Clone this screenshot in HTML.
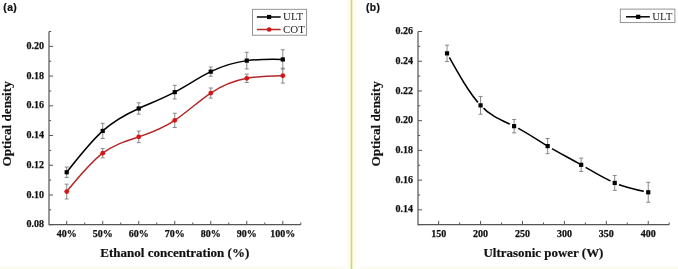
<!DOCTYPE html>
<html><head><meta charset="utf-8"><style>
html,body{margin:0;padding:0;background:#fff;width:678px;height:269px;overflow:hidden}
svg{display:block;will-change:transform;filter:blur(0.25px)}
.tk{font-family:"Liberation Serif",serif;font-weight:bold;font-size:10px;fill:#111;stroke:#111;stroke-width:0.25px}
.tt{font-family:"Liberation Serif",serif;font-weight:bold;font-size:13.5px;fill:#111;stroke:#111;stroke-width:0.2px}
.lg{font-family:"Liberation Serif",serif;font-size:10.9px;fill:#222}
.pn{font-family:"Liberation Sans",sans-serif;font-weight:bold;font-size:10.3px;fill:#111;stroke:#111;stroke-width:0.2px}
</style></head><body>
<svg width="678" height="269" viewBox="0 0 678 269">
<rect x="0" y="0" width="678" height="269" fill="#fff"/>
<rect x="0" y="266" width="678" height="1" fill="#fefefa"/><rect x="0" y="267" width="678" height="1" fill="#fdfcf4"/><rect x="0" y="268" width="678" height="1" fill="#fcfaed"/>
<rect x="345" y="0" width="13" height="269" fill="#fefef7"/><rect x="348" y="0" width="7" height="269" fill="#fcfce9"/><rect x="350" y="0" width="3" height="269" fill="#eff0cb"/><rect x="351" y="0" width="1" height="269" fill="#d0d292"/>
<text class="pn" x="3.3" y="11.2" letter-spacing="0.4">(a)</text>
<text class="pn" x="366" y="11.3" letter-spacing="0.4">(b)</text>
<path d="M49,31.5 V224.7 H300.8" fill="none" stroke="#555" stroke-width="1.2"/>
<path d="M49,224.7 h4" stroke="#555" stroke-width="1"/>
<path d="M49,194.98 h4" stroke="#555" stroke-width="1"/>
<path d="M49,165.25 h4" stroke="#555" stroke-width="1"/>
<path d="M49,135.53 h4" stroke="#555" stroke-width="1"/>
<path d="M49,105.81 h4" stroke="#555" stroke-width="1"/>
<path d="M49,76.08 h4" stroke="#555" stroke-width="1"/>
<path d="M49,46.36 h4" stroke="#555" stroke-width="1"/>
<path d="M49,209.84 h2.2" stroke="#555" stroke-width="1"/>
<path d="M49,180.12 h2.2" stroke="#555" stroke-width="1"/>
<path d="M49,150.39 h2.2" stroke="#555" stroke-width="1"/>
<path d="M49,120.67 h2.2" stroke="#555" stroke-width="1"/>
<path d="M49,90.95 h2.2" stroke="#555" stroke-width="1"/>
<path d="M49,61.22 h2.2" stroke="#555" stroke-width="1"/>
<path d="M49,31.5 h2.2" stroke="#555" stroke-width="1"/>
<path d="M66.71,224.7 v-3.8" stroke="#555" stroke-width="1"/>
<path d="M102.72,224.7 v-3.8" stroke="#555" stroke-width="1"/>
<path d="M138.74,224.7 v-3.8" stroke="#555" stroke-width="1"/>
<path d="M174.75,224.7 v-3.8" stroke="#555" stroke-width="1"/>
<path d="M210.76,224.7 v-3.8" stroke="#555" stroke-width="1"/>
<path d="M246.78,224.7 v-3.8" stroke="#555" stroke-width="1"/>
<path d="M282.79,224.7 v-3.8" stroke="#555" stroke-width="1"/>
<path d="M84.71,224.7 v-2.2" stroke="#555" stroke-width="1"/>
<path d="M120.73,224.7 v-2.2" stroke="#555" stroke-width="1"/>
<path d="M156.74,224.7 v-2.2" stroke="#555" stroke-width="1"/>
<path d="M192.76,224.7 v-2.2" stroke="#555" stroke-width="1"/>
<path d="M228.77,224.7 v-2.2" stroke="#555" stroke-width="1"/>
<path d="M264.79,224.7 v-2.2" stroke="#555" stroke-width="1"/>
<path d="M300.8,224.7 v-2.2" stroke="#555" stroke-width="1"/>
<text class="tk" x="44.1" y="227.3" text-anchor="end">0.08</text>
<text class="tk" x="44.1" y="197.58" text-anchor="end">0.10</text>
<text class="tk" x="44.1" y="167.85" text-anchor="end">0.12</text>
<text class="tk" x="44.1" y="138.13" text-anchor="end">0.14</text>
<text class="tk" x="44.1" y="108.41" text-anchor="end">0.16</text>
<text class="tk" x="44.1" y="78.68" text-anchor="end">0.18</text>
<text class="tk" x="44.1" y="48.96" text-anchor="end">0.20</text>
<text class="tk" x="66.71" y="236.9" text-anchor="middle">40%</text>
<text class="tk" x="102.72" y="236.9" text-anchor="middle">50%</text>
<text class="tk" x="138.74" y="236.9" text-anchor="middle">60%</text>
<text class="tk" x="174.75" y="236.9" text-anchor="middle">70%</text>
<text class="tk" x="210.76" y="236.9" text-anchor="middle">80%</text>
<text class="tk" x="246.78" y="236.9" text-anchor="middle">90%</text>
<text class="tk" x="282.79" y="236.9" text-anchor="middle">100%</text>
<text class="tt" x="174.75" y="256.9" text-anchor="middle" textLength="149" lengthAdjust="spacingAndGlyphs">Ethanol concentration (%)</text>
<text class="tt" transform="translate(11.1,123.9) rotate(-90)" text-anchor="middle" textLength="85.3" lengthAdjust="spacingAndGlyphs">Optical density</text>
<path d="M66.71,172.24 C78.71,156.97 90.72,141.69 102.72,130.92 C114.73,120.15 126.73,113.89 138.74,108.48 C150.74,103.08 162.75,98.53 174.75,92.14 C186.75,85.74 198.76,77.5 210.76,71.63 C222.77,65.76 234.77,62.26 246.78,60.63 C258.78,58.99 270.79,59.22 282.79,59.44" fill="none" stroke="#000" stroke-width="1.5"/>
<path d="M66.71,167.04 V177.44 M64.71,167.04 h4 M64.71,177.44 h4" stroke="#7c7c7c" stroke-width="0.9" fill="none"/>
<path d="M102.72,123.34 V138.5 M100.72,123.34 h4 M100.72,138.5 h4" stroke="#7c7c7c" stroke-width="0.9" fill="none"/>
<path d="M138.74,102.84 V114.13 M136.74,102.84 h4 M136.74,114.13 h4" stroke="#7c7c7c" stroke-width="0.9" fill="none"/>
<path d="M174.75,85.3 V98.97 M172.75,85.3 h4 M172.75,98.97 h4" stroke="#7c7c7c" stroke-width="0.9" fill="none"/>
<path d="M210.76,67.02 V76.23 M208.76,67.02 h4 M208.76,76.23 h4" stroke="#7c7c7c" stroke-width="0.9" fill="none"/>
<path d="M246.78,52.31 V68.95 M244.78,52.31 h4 M244.78,68.95 h4" stroke="#7c7c7c" stroke-width="0.9" fill="none"/>
<path d="M282.79,49.78 V69.1 M280.79,49.78 h4 M280.79,69.1 h4" stroke="#7c7c7c" stroke-width="0.9" fill="none"/>
<rect x="64.61" y="170.14" width="4.2" height="4.2" fill="#000"/>
<rect x="100.62" y="128.82" width="4.2" height="4.2" fill="#000"/>
<rect x="136.64" y="106.38" width="4.2" height="4.2" fill="#000"/>
<rect x="172.65" y="90.04" width="4.2" height="4.2" fill="#000"/>
<rect x="208.66" y="69.53" width="4.2" height="4.2" fill="#000"/>
<rect x="244.68" y="58.53" width="4.2" height="4.2" fill="#000"/>
<rect x="280.69" y="57.34" width="4.2" height="4.2" fill="#000"/>
<path d="M66.71,191.56 C78.71,176.9 90.72,162.23 102.72,153.22 C114.73,144.2 126.73,140.83 138.74,136.87 C150.74,132.91 162.75,128.36 174.75,120.37 C186.75,112.39 198.76,100.97 210.76,93.03 C222.77,85.09 234.77,80.63 246.78,78.31 C258.78,76 270.79,75.82 282.79,75.64" fill="none" stroke="#b42828" stroke-width="1.5"/>
<path d="M66.71,184.13 V198.99 M64.71,184.13 h4 M64.71,198.99 h4" stroke="#7c7c7c" stroke-width="0.9" fill="none"/>
<path d="M102.72,148.61 V157.82 M100.72,148.61 h4 M100.72,157.82 h4" stroke="#7c7c7c" stroke-width="0.9" fill="none"/>
<path d="M138.74,131.07 V142.66 M136.74,131.07 h4 M136.74,142.66 h4" stroke="#7c7c7c" stroke-width="0.9" fill="none"/>
<path d="M174.75,113.24 V127.51 M172.75,113.24 h4 M172.75,127.51 h4" stroke="#7c7c7c" stroke-width="0.9" fill="none"/>
<path d="M210.76,87.97 V98.08 M208.76,87.97 h4 M208.76,98.08 h4" stroke="#7c7c7c" stroke-width="0.9" fill="none"/>
<path d="M246.78,74.15 V82.48 M244.78,74.15 h4 M244.78,82.48 h4" stroke="#7c7c7c" stroke-width="0.9" fill="none"/>
<path d="M282.79,68.21 V83.07 M280.79,68.21 h4 M280.79,83.07 h4" stroke="#7c7c7c" stroke-width="0.9" fill="none"/>
<circle cx="66.71" cy="191.56" r="2.4" fill="#d81414"/>
<circle cx="102.72" cy="153.22" r="2.4" fill="#d81414"/>
<circle cx="138.74" cy="136.87" r="2.4" fill="#d81414"/>
<circle cx="174.75" cy="120.37" r="2.4" fill="#d81414"/>
<circle cx="210.76" cy="93.03" r="2.4" fill="#d81414"/>
<circle cx="246.78" cy="78.31" r="2.4" fill="#d81414"/>
<circle cx="282.79" cy="75.64" r="2.4" fill="#d81414"/>
<rect x="252.5" y="9.3" width="54.1" height="25.9" fill="#fff" stroke="#888" stroke-width="0.9"/>
<path d="M256.9,17 H280.7" stroke="#000" stroke-width="1.5"/>
<rect x="267" y="14.9" width="4.2" height="4.2" fill="#000"/>
<text class="lg" x="283.1" y="20.1">ULT</text>
<path d="M256.9,29.5 H280.7" stroke="#b42828" stroke-width="1.5"/>
<circle cx="269.1" cy="29.5" r="2.3" fill="#d81414"/>
<text class="lg" x="283.1" y="32.6">COT</text>
<path d="M418,31.5 V224.7 H669.2" fill="none" stroke="#555" stroke-width="1.2"/>
<path d="M418,209.84 h4" stroke="#555" stroke-width="1"/>
<path d="M418,180.12 h4" stroke="#555" stroke-width="1"/>
<path d="M418,150.39 h4" stroke="#555" stroke-width="1"/>
<path d="M418,120.67 h4" stroke="#555" stroke-width="1"/>
<path d="M418,90.95 h4" stroke="#555" stroke-width="1"/>
<path d="M418,61.22 h4" stroke="#555" stroke-width="1"/>
<path d="M418,31.5 h4" stroke="#555" stroke-width="1"/>
<path d="M418,224.7 h2.2" stroke="#555" stroke-width="1"/>
<path d="M418,194.98 h2.2" stroke="#555" stroke-width="1"/>
<path d="M418,165.25 h2.2" stroke="#555" stroke-width="1"/>
<path d="M418,135.53 h2.2" stroke="#555" stroke-width="1"/>
<path d="M418,105.81 h2.2" stroke="#555" stroke-width="1"/>
<path d="M418,76.08 h2.2" stroke="#555" stroke-width="1"/>
<path d="M418,46.36 h2.2" stroke="#555" stroke-width="1"/>
<path d="M438.66,224.7 v-3.8" stroke="#555" stroke-width="1"/>
<path d="M480.57,224.7 v-3.8" stroke="#555" stroke-width="1"/>
<path d="M522.49,224.7 v-3.8" stroke="#555" stroke-width="1"/>
<path d="M564.41,224.7 v-3.8" stroke="#555" stroke-width="1"/>
<path d="M606.33,224.7 v-3.8" stroke="#555" stroke-width="1"/>
<path d="M648.24,224.7 v-3.8" stroke="#555" stroke-width="1"/>
<path d="M459.62,224.7 v-2.2" stroke="#555" stroke-width="1"/>
<path d="M501.53,224.7 v-2.2" stroke="#555" stroke-width="1"/>
<path d="M543.45,224.7 v-2.2" stroke="#555" stroke-width="1"/>
<path d="M585.37,224.7 v-2.2" stroke="#555" stroke-width="1"/>
<path d="M627.28,224.7 v-2.2" stroke="#555" stroke-width="1"/>
<path d="M669.2,224.7 v-2.2" stroke="#555" stroke-width="1"/>
<text class="tk" x="413.1" y="212.44" text-anchor="end">0.14</text>
<text class="tk" x="413.1" y="182.72" text-anchor="end">0.16</text>
<text class="tk" x="413.1" y="152.99" text-anchor="end">0.18</text>
<text class="tk" x="413.1" y="123.27" text-anchor="end">0.20</text>
<text class="tk" x="413.1" y="93.55" text-anchor="end">0.22</text>
<text class="tk" x="413.1" y="63.82" text-anchor="end">0.24</text>
<text class="tk" x="413.1" y="34.1" text-anchor="end">0.26</text>
<text class="tk" x="438.66" y="236.9" text-anchor="middle">150</text>
<text class="tk" x="480.57" y="236.9" text-anchor="middle">200</text>
<text class="tk" x="522.49" y="236.9" text-anchor="middle">250</text>
<text class="tk" x="564.41" y="236.9" text-anchor="middle">300</text>
<text class="tk" x="606.33" y="236.9" text-anchor="middle">350</text>
<text class="tk" x="648.24" y="236.9" text-anchor="middle">400</text>
<text class="tt" x="543.45" y="256.9" text-anchor="middle" textLength="120" lengthAdjust="spacingAndGlyphs">Ultrasonic power (W)</text>
<text class="tt" transform="translate(380.1,123.9) rotate(-90)" text-anchor="middle" textLength="85.3" lengthAdjust="spacingAndGlyphs">Optical density</text>
<path d="M447.04,53.35 C458.22,73.46 469.4,93.58 480.57,105.36 C491.75,117.15 502.93,120.6 514.11,126.17 C525.29,131.73 536.46,139.41 547.64,146.08 C558.82,152.76 570,158.44 581.18,164.81 C592.35,171.18 603.53,178.24 614.71,182.94 C625.89,187.64 637.06,189.97 648.24,192.3" fill="none" stroke="#000" stroke-width="1.5"/>
<circle cx="447.04" cy="53.35" r="4.8" fill="#fff"/>
<circle cx="480.57" cy="105.36" r="3.9" fill="#fff"/>
<circle cx="514.11" cy="126.17" r="4.7" fill="#fff"/>
<circle cx="549.14" cy="146.95" r="3.3" fill="#fff"/>
<circle cx="582.68" cy="165.63" r="3.3" fill="#fff"/>
<circle cx="614.71" cy="182.94" r="4.7" fill="#fff"/>
<circle cx="648.24" cy="192.3" r="4.7" fill="#fff"/>
<path d="M447.04,45.17 V61.52 M445.04,45.17 h4 M445.04,61.52 h4" stroke="#7c7c7c" stroke-width="0.9" fill="none"/>
<path d="M480.57,96.44 V114.28 M478.57,96.44 h4 M478.57,114.28 h4" stroke="#7c7c7c" stroke-width="0.9" fill="none"/>
<path d="M514.11,119.48 V132.86 M512.11,119.48 h4 M512.11,132.86 h4" stroke="#7c7c7c" stroke-width="0.9" fill="none"/>
<path d="M547.64,138.5 V153.66 M545.64,138.5 h4 M545.64,153.66 h4" stroke="#7c7c7c" stroke-width="0.9" fill="none"/>
<path d="M581.18,158.12 V171.5 M579.18,158.12 h4 M579.18,171.5 h4" stroke="#7c7c7c" stroke-width="0.9" fill="none"/>
<path d="M614.71,175.51 V190.37 M612.71,175.51 h4 M612.71,190.37 h4" stroke="#7c7c7c" stroke-width="0.9" fill="none"/>
<path d="M648.24,182.34 V202.26 M646.24,182.34 h4 M646.24,202.26 h4" stroke="#7c7c7c" stroke-width="0.9" fill="none"/>
<rect x="444.94" y="51.25" width="4.2" height="4.2" fill="#000"/>
<rect x="478.47" y="103.26" width="4.2" height="4.2" fill="#000"/>
<rect x="512.01" y="124.07" width="4.2" height="4.2" fill="#000"/>
<rect x="545.54" y="143.98" width="4.2" height="4.2" fill="#000"/>
<rect x="579.08" y="162.71" width="4.2" height="4.2" fill="#000"/>
<rect x="612.61" y="180.84" width="4.2" height="4.2" fill="#000"/>
<rect x="646.14" y="190.2" width="4.2" height="4.2" fill="#000"/>
<rect x="620.3" y="9.1" width="54.6" height="13.5" fill="#fff" stroke="#888" stroke-width="0.9"/>
<path d="M626,16.8 H649.8" stroke="#000" stroke-width="1.5"/>
<rect x="636.1" y="14.7" width="4.2" height="4.2" fill="#000"/>
<text class="lg" x="652.2" y="20.4">ULT</text>
</svg>
</body></html>
